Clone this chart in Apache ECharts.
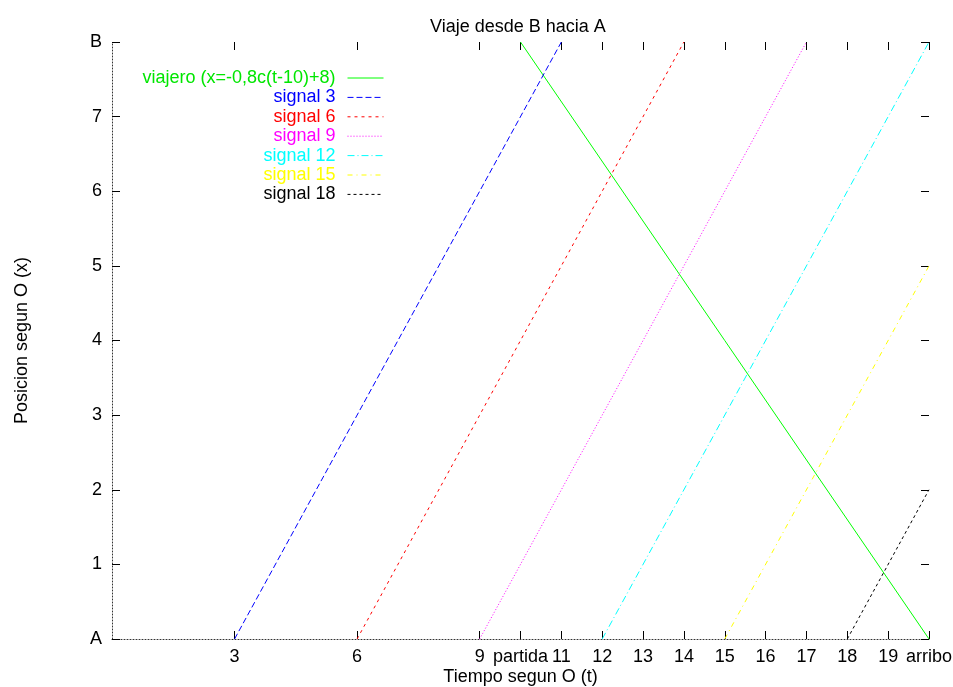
<!DOCTYPE html>
<html>
<head>
<meta charset="utf-8">
<script src="https://cdn.jsdelivr.net/npm/echarts@6/dist/echarts.min.js"></script>
<style>html,body{margin:0;padding:0;background:#fff}#c{width:953px;height:687px}</style>
</head>
<body>
<div id="c"></div>
<script>
const titleText = 'Viaje desde B hacia A';
const xName = 'Tiempo segun O (t)';
const yName = 'Posicion segun O (x)';
const xTicks = [3, 6, 9, 10, 11, 12, 13, 14, 15, 16, 17, 18, 19, 20];
const xTickLabels = ['3', '6', '9', 'partida', '11', '12', '13', '14', '15', '16', '17', '18', '19', 'arribo'];
const yTicks = [0, 1, 2, 3, 4, 5, 6, 7, 8];
const yTickLabels = ['A', '1', '2', '3', '4', '5', '6', '7', 'B'];
const seriesNames = ['viajero (x=-0,8c(t-10)+8)', 'signal 3', 'signal 6', 'signal 9', 'signal 12', 'signal 15', 'signal 18'];
const viajero = [[10, 8], [20, 0]];
const signal3 = [[3, 0], [11, 8]];
const signal6 = [[6, 0], [14, 8]];
const signal9 = [[9, 0], [17, 8]];
const signal12 = [[12, 0], [20, 8]];
const signal15 = [[15, 0], [20, 5]];
const signal18 = [[18, 0], [20, 2]];
const seriesData = [viajero, signal3, signal6, signal9, signal12, signal15, signal18];
const colors = ['#00ff00', '#0000ff', '#ff0000', '#ff00ff', '#00ffff', '#ffff00', '#000000'];
const textColors = ['#00e600', '#0000ff', '#ff0000', '#ff00ff', '#00ffff', '#ffff00', '#000000'];
const dashes = ['solid', [6, 3], [3, 4], [1, 2], [7, 3, 1, 3], [5, 4, 1, 4], [3, 3]];

const FONT = 'Liberation Sans, Arial, sans-serif';
const chart = echarts.init(document.getElementById('c'), null, {renderer: 'canvas'});

function xLab(v) { const i = xTicks.indexOf(v); return i >= 0 ? xTickLabels[i] : ''; }
function yLab(v) { const i = yTicks.indexOf(v); return i >= 0 ? yTickLabels[i] : ''; }

const tickStyle = {color: '#000', width: 1};
const hiddenLine = {show: true, onZero: false, lineStyle: {color: '#000', opacity: 0}};
chart.setOption({
  animation: false,
  backgroundColor: '#fff',
  title: {
    text: titleText, left: 430, top: 18, padding: 0,
    textStyle: {fontFamily: FONT, fontSize: 18, fontWeight: 'normal', color: '#000'}
  },
  grid: {left: 112, right: 24, top: 42, bottom: 48, containLabel: false, outerBoundsMode: 'none'},
  legend: {
    orient: 'vertical', align: 'right', right: 569, top: 69, padding: 0,
    itemWidth: 36, itemHeight: 12, itemGap: 1.4,
    itemStyle: {opacity: 0},
    lineStyle: {width: 1},
    textStyle: {fontFamily: FONT, fontSize: 18, lineHeight: 18, padding: [0, 7, 0, 0]},
    data: seriesNames.map((n, i) => ({name: n, textStyle: {color: textColors[i]}}))
  },
  xAxis: [{
    type: 'value', min: 0, max: 20, position: 'bottom',
    name: xName, nameLocation: 'middle', nameGap: 29, nameMoveOverlap: false,
    nameTextStyle: {fontFamily: FONT, fontSize: 18, color: '#000'},
    splitLine: {show: false},
    axisLine: {show: true, onZero: false, lineStyle: {color: '#333', width: 1, type: [1, 2]}},
    axisTick: {show: true, inside: true, length: 8, customValues: xTicks, lineStyle: tickStyle},
    axisLabel: {show: true, margin: 9, customValues: xTicks, formatter: xLab,
      fontFamily: FONT, fontSize: 18, color: '#000', showMinLabel: true, showMaxLabel: true}
  }, {
    type: 'value', min: 0, max: 20, position: 'top',
    splitLine: {show: false},
    axisLine: hiddenLine,
    axisTick: {show: true, inside: true, length: 8, customValues: xTicks, lineStyle: tickStyle},
    axisLabel: {show: false}
  }],
  yAxis: [{
    type: 'value', min: 0, max: 8, interval: 1, position: 'left',
    name: yName, nameLocation: 'middle', nameGap: 81, nameRotate: 90, nameMoveOverlap: false,
    nameTextStyle: {fontFamily: FONT, fontSize: 18, color: '#000'},
    splitLine: {show: false},
    axisLine: {show: true, onZero: false, lineStyle: {color: '#333', width: 1, type: [1, 2]}},
    axisTick: {show: true, inside: true, length: 8, customValues: yTicks, lineStyle: tickStyle},
    axisLabel: {show: true, margin: 10, customValues: yTicks, formatter: yLab,
      fontFamily: FONT, fontSize: 18, color: '#000', showMinLabel: true, showMaxLabel: true}
  }, {
    type: 'value', min: 0, max: 8, interval: 1, position: 'right',
    splitLine: {show: false},
    axisLine: hiddenLine,
    axisTick: {show: true, inside: true, length: 8, customValues: yTicks, lineStyle: tickStyle},
    axisLabel: {show: false}
  }],
  series: seriesNames.map((n, i) => ({
    name: n, type: 'line', data: seriesData[i], symbol: 'none', showSymbol: false,
    xAxisIndex: 0, yAxisIndex: 0,
    color: colors[i],
    lineStyle: {color: colors[i], width: 1, type: dashes[i]},
    emphasis: {disabled: true}
  }))
});
</script>
</body>
</html>
